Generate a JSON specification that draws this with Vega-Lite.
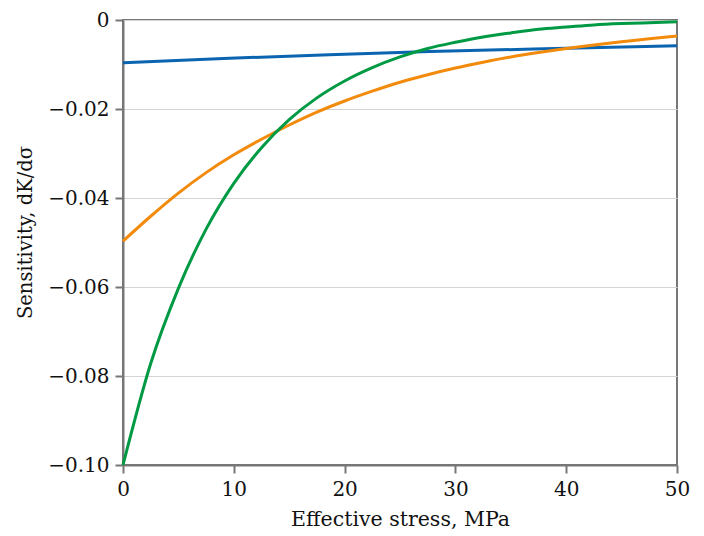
{
  "$schema": "https://vega.github.io/schema/vega-lite/v6.json",
  "width": 554,
  "height": 445,
  "autosize": {"type": "none"},
  "padding": {"left": 123, "top": 20, "right": 27, "bottom": 71},
  "background": "white",
  "config": {
    "font": "DejaVu Serif",
    "view": {"stroke": "#777777", "strokeWidth": 2},
    "axis": {
      "domainColor": "#777777",
      "domainWidth": 2,
      "tickColor": "#777777",
      "tickWidth": 2,
      "tickSize": 8,
      "labelColor": "#111111",
      "labelFontSize": 20,
      "labelFont": "DejaVu Serif",
      "titleFont": "DejaVu Serif",
      "titleFontWeight": "normal",
      "titleColor": "#111111",
      "gridColor": "#d4d4d4",
      "gridWidth": 1
    }
  },
  "data": {
    "values": [
      {"stress": 0, "sens": -0.0096, "series": "A"},
      {"stress": 9.6, "sens": -0.0086, "series": "A"},
      {"stress": 18.6, "sens": -0.0078, "series": "A"},
      {"stress": 27.7, "sens": -0.0071, "series": "A"},
      {"stress": 39, "sens": -0.0064, "series": "A"},
      {"stress": 50, "sens": -0.0058, "series": "A"},
      {"stress": 0, "sens": -0.0497, "series": "B"},
      {"stress": 2.5, "sens": -0.0441, "series": "B"},
      {"stress": 5, "sens": -0.0389, "series": "B"},
      {"stress": 7.5, "sens": -0.0343, "series": "B"},
      {"stress": 10, "sens": -0.0303, "series": "B"},
      {"stress": 12.5, "sens": -0.0268, "series": "B"},
      {"stress": 15, "sens": -0.0236, "series": "B"},
      {"stress": 17.5, "sens": -0.0207, "series": "B"},
      {"stress": 20, "sens": -0.0182, "series": "B"},
      {"stress": 22.5, "sens": -0.0160, "series": "B"},
      {"stress": 25, "sens": -0.0140, "series": "B"},
      {"stress": 27.5, "sens": -0.0123, "series": "B"},
      {"stress": 30, "sens": -0.0108, "series": "B"},
      {"stress": 32.5, "sens": -0.0095, "series": "B"},
      {"stress": 35, "sens": -0.0083, "series": "B"},
      {"stress": 37.5, "sens": -0.0073, "series": "B"},
      {"stress": 40, "sens": -0.0064, "series": "B"},
      {"stress": 42.5, "sens": -0.0056, "series": "B"},
      {"stress": 45, "sens": -0.0049, "series": "B"},
      {"stress": 47.5, "sens": -0.0042, "series": "B"},
      {"stress": 50, "sens": -0.0036, "series": "B"},
      {"stress": 0, "sens": -0.1000, "series": "C"},
      {"stress": 2.5, "sens": -0.0772, "series": "C"},
      {"stress": 5, "sens": -0.0603, "series": "C"},
      {"stress": 7.5, "sens": -0.0470, "series": "C"},
      {"stress": 10, "sens": -0.0367, "series": "C"},
      {"stress": 12.5, "sens": -0.0287, "series": "C"},
      {"stress": 15, "sens": -0.0224, "series": "C"},
      {"stress": 17.5, "sens": -0.0175, "series": "C"},
      {"stress": 20, "sens": -0.0137, "series": "C"},
      {"stress": 22.5, "sens": -0.0107, "series": "C"},
      {"stress": 25, "sens": -0.0083, "series": "C"},
      {"stress": 27.5, "sens": -0.0064, "series": "C"},
      {"stress": 30, "sens": -0.0050, "series": "C"},
      {"stress": 32.5, "sens": -0.0038, "series": "C"},
      {"stress": 35, "sens": -0.0029, "series": "C"},
      {"stress": 37.5, "sens": -0.0021, "series": "C"},
      {"stress": 40, "sens": -0.0016, "series": "C"},
      {"stress": 42.5, "sens": -0.0011, "series": "C"},
      {"stress": 45, "sens": -0.0008, "series": "C"},
      {"stress": 47.5, "sens": -0.0006, "series": "C"},
      {"stress": 50, "sens": -0.0004, "series": "C"}
    ]
  },
  "mark": {"type": "line", "strokeWidth": 3, "interpolate": "monotone", "clip": false},
  "encoding": {
    "x": {
      "field": "stress",
      "type": "quantitative",
      "scale": {"domain": [0, 50], "nice": false, "zero": false},
      "axis": {
        "title": "Effective stress, MPa",
        "titleFontSize": 20.5,
        "values": [0, 10, 20, 30, 40, 50],
        "grid": false,
        "labelPadding": 6,
        "titlePadding": 10,
        "labelFlush": false
      }
    },
    "y": {
      "field": "sens",
      "type": "quantitative",
      "scale": {"domain": [-0.1, 0], "nice": false, "zero": false},
      "axis": {
        "title": "Sensitivity, dK/dσ",
        "titleFontSize": 19.5,
        "titleY": 212,
        "values": [-0.1, -0.08, -0.06, -0.04, -0.02, 0],
        "labelExpr": "datum.value == 0 ? '0' : '−' + format(-datum.value, '.2f')",
        "grid": true,
        "labelPadding": 6,
        "titlePadding": 12,
        "labelFlush": false
      }
    },
    "color": {
      "field": "series",
      "type": "nominal",
      "scale": {"domain": ["A", "B", "C"], "range": ["#0a64b0", "#f28a0c", "#009a44"]},
      "legend": null
    }
  }
}
